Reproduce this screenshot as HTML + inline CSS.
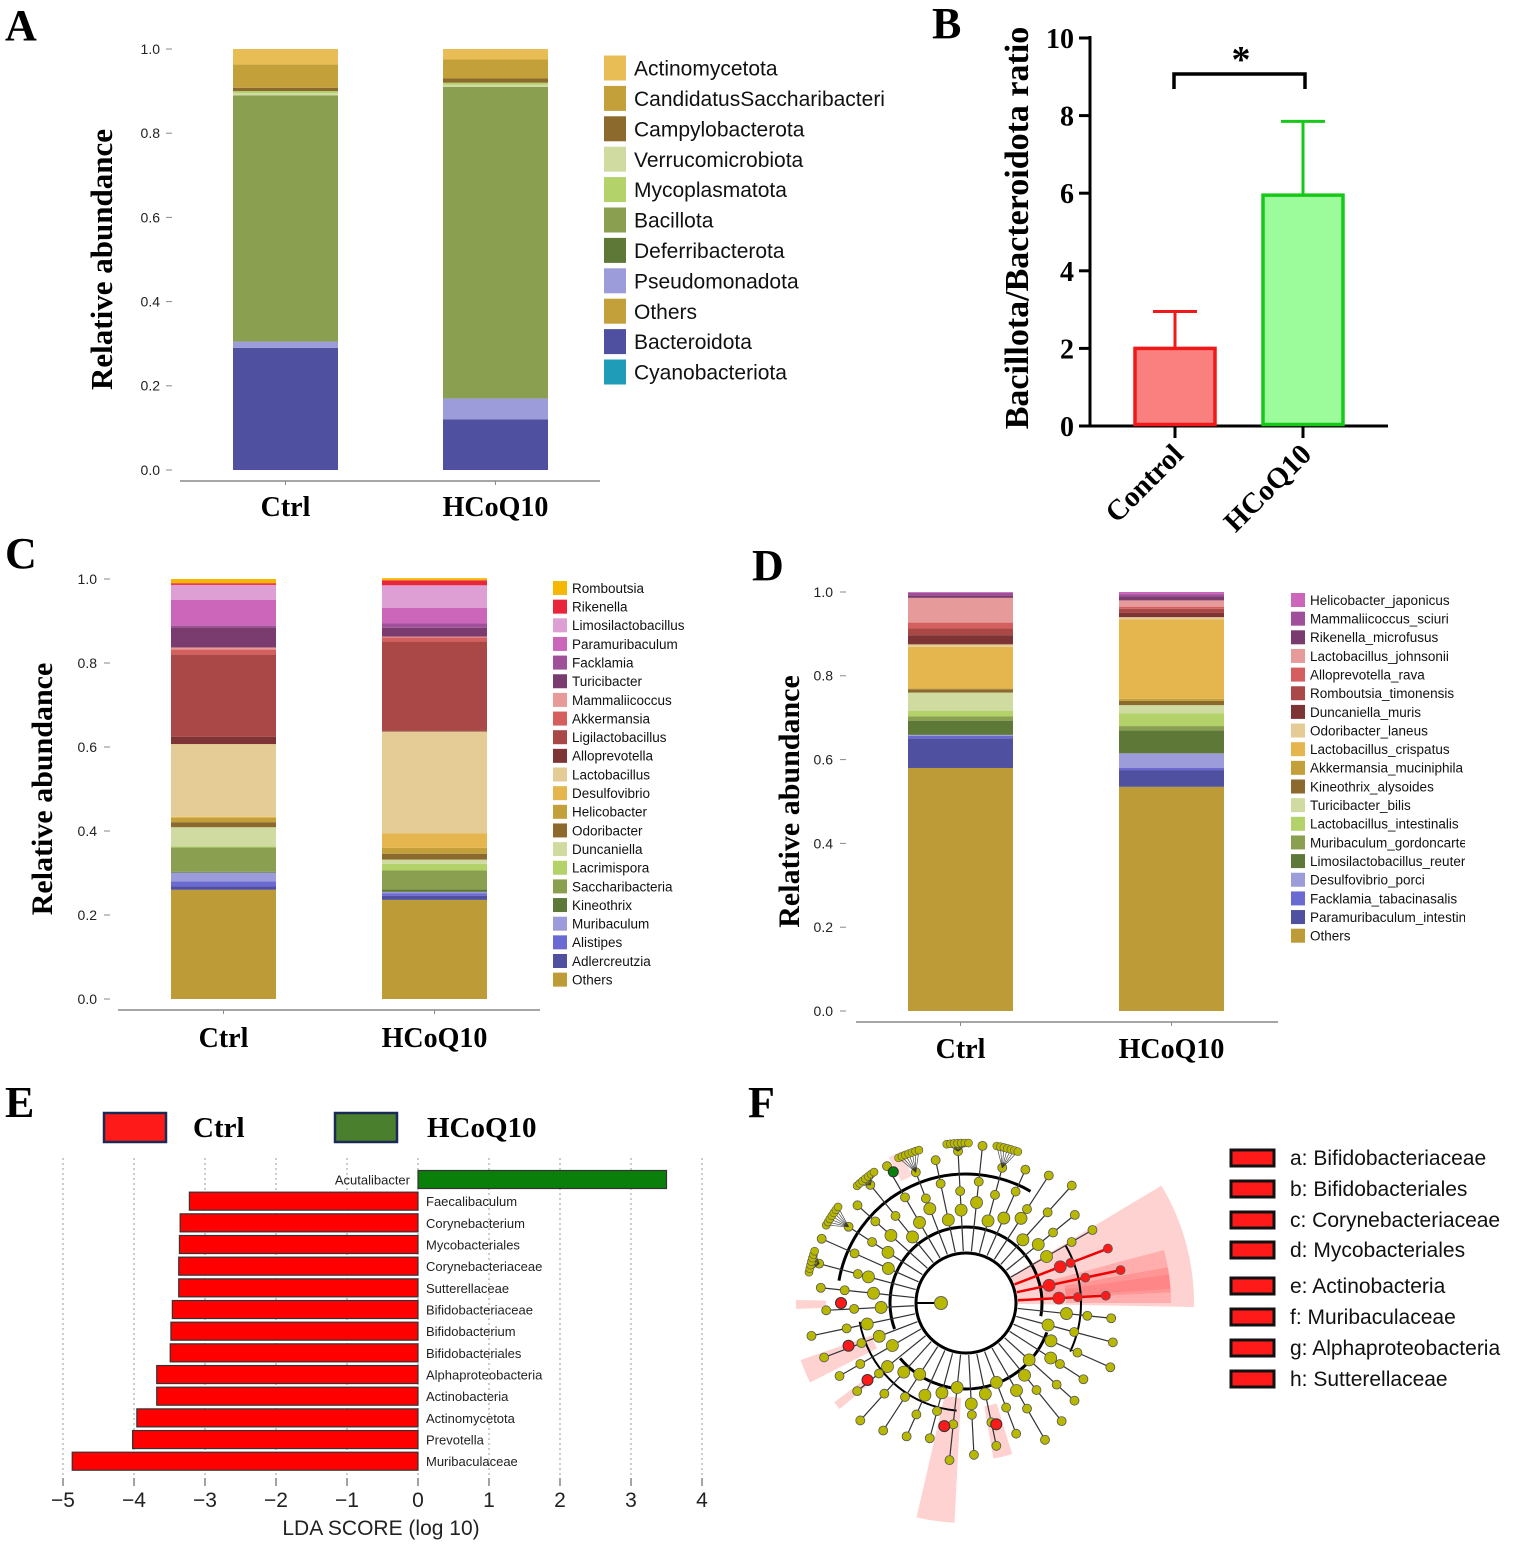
<!DOCTYPE html>
<html><head><meta charset="utf-8"><style>
html,body{margin:0;padding:0;background:#fff;}
svg{display:block;}
.ser{font-family:"Liberation Serif",serif;font-weight:bold;}
.san{font-family:"Liberation Sans",sans-serif;}
</style></head><body>
<svg id="fig" width="1535" height="1545" viewBox="0 0 1535 1545">
<g id="gA"></g>
<g id="gB"></g>
<g id="gC"></g>
<g id="gD"></g>
<g id="gE"></g>
<g id="gF"></g>
</svg>
<script>
const NS="http://www.w3.org/2000/svg";
function mk(p,t,a,txt){const e=document.createElementNS(NS,t);for(const k in a)e.setAttribute(k,a[k]);if(txt!==undefined)e.textContent=txt;p.appendChild(e);return e;}

// ---------- Panel A data ----------
const aPhyla=["Bacteroidota","Pseudomonadota","Bacillota","Verrucomicrobiota","Mycoplasmatota","Campylobacterota","CandidatusSaccharibacteria","Actinomycetota"];
const aColors=["#5050a0","#9c9cdb","#8b9f50","#cfdba0","#b3d36a","#8c6a2d","#c4a03a","#e8bd55"];
const aCtrl=[0.29,0.015,0.585,0.005,0.005,0.008,0.055,0.037];
const aHCoQ=[0.12,0.05,0.74,0.005,0.005,0.01,0.045,0.025];
const aLegend=["Actinomycetota","CandidatusSaccharibacteria","Campylobacterota","Verrucomicrobiota","Mycoplasmatota","Bacillota","Deferribacterota","Pseudomonadota","Others","Bacteroidota","Cyanobacteriota"];
const aLegendColors=["#e8bd55","#c4a03a","#8c6a2d","#cfdba0","#b3d36a","#8b9f50","#5e7838","#9c9cdb","#c4a03a","#5050a0","#1e9cb8"];

// ---------- Panel B data ----------
const bGroups=["Control","HCoQ10"];
const bMeans=[2.0,5.95];
const bErr=[0.95,1.9];
const bTicks=[0,2,4,6,8,10];

// ---------- Panel C data ----------
const cGenera=["Others","Adlercreutzia","Alistipes","Muribaculum","Kineothrix","Saccharibacteria","Lacrimispora","Duncaniella","Odoribacter","Helicobacter","Desulfovibrio","Lactobacillus","Alloprevotella","Ligilactobacillus","Akkermansia","Mammaliicoccus","Turicibacter","Facklamia","Paramuribaculum","Limosilactobacillus","Rikenella","Romboutsia"];
const cColors=["#bd9b37","#5050a0","#6a6ad2","#9c9cdb","#5e7838","#8b9f50","#b3d36a","#cfdba0","#8c6a2d","#c4a03a","#e5b54e","#e5cc96","#7e3434","#aa4848","#d55f5f","#e79a9a","#7a3b6e","#a0509a","#cc66bb","#dd9fd4","#e8253a","#f5b800"];
const cCtrl=[0.26,0.008,0.012,0.021,0.002,0.058,0.002,0.046,0.012,0.01,0.003,0.173,0.017,0.196,0.012,0.005,0.048,0.004,0.061,0.036,0.004,0.01];
const cHCoQ=[0.236,0.01,0.006,0.003,0.006,0.045,0.016,0.01,0.014,0.014,0.034,0.243,0.002,0.212,0.01,0.002,0.021,0.01,0.037,0.054,0.012,0.005];

// ---------- Panel D data ----------
const dSpecies=["Others","Paramuribaculum_intestinale","Facklamia_tabacinasalis","Desulfovibrio_porci","Limosilactobacillus_reuteri","Muribaculum_gordoncarteri","Lactobacillus_intestinalis","Turicibacter_bilis","Kineothrix_alysoides","Akkermansia_muciniphila","Lactobacillus_crispatus","Odoribacter_laneus","Duncaniella_muris","Romboutsia_timonensis","Alloprevotella_rava","Lactobacillus_johnsonii","Rikenella_microfusus","Mammaliicoccus_sciuri","Helicobacter_japonicus"];
const dColors=["#bd9b37","#5050a0","#6a6ad2","#9c9cdb","#5e7838","#8b9f50","#b3d36a","#cfdba0","#8c6a2d","#c4a03a","#e5b54e","#e5cc96","#7e3434","#aa4848","#d55f5f","#e79a9a","#7a3b6e","#a0509a","#cc66bb"];
const dCtrl=[0.58,0.071,0.006,0.002,0.034,0.01,0.013,0.044,0.008,0.002,0.099,0.006,0.022,0.016,0.014,0.059,0.006,0.006,0.002];
const dHCoQ=[0.535,0.04,0.005,0.035,0.055,0.01,0.03,0.02,0.01,0.005,0.19,0.005,0.01,0.01,0.005,0.015,0.01,0.005,0.005];

// ---------- Panel E data ----------
const eTaxa=["Acutalibacter","Faecalibaculum","Corynebacterium","Mycobacteriales","Corynebacteriaceae","Sutterellaceae","Bifidobacteriaceae","Bifidobacterium","Bifidobacteriales","Alphaproteobacteria","Actinobacteria","Actinomycetota","Prevotella","Muribaculaceae"];
const eScores=[3.5,-3.22,-3.35,-3.36,-3.37,-3.37,-3.46,-3.48,-3.49,-3.68,-3.68,-3.96,-4.02,-4.87];
const eTicks=[-5,-4,-3,-2,-1,0,1,2,3,4];

// ---------- Panel F legend ----------
const fLegend=["a: Bifidobacteriaceae","b: Bifidobacteriales","c: Corynebacteriaceae","d: Mycobacteriales","e: Actinobacteria","f: Muribaculaceae","g: Alphaproteobacteria","h: Sutterellaceae"];
const fLegendY=[1158,1189,1220,1250,1286,1317,1348,1379];

function letter(g,x,y,t){const e=mk(g,"text",{x:x,y:y,"font-size":44,class:"ser"},t);

}

function stacked(g,cfg){
 const {y0,y1,bars,labels,colors,values,tickLX,tickX,axisY,axisX0,axisX1,labY,labFs,tickFs,titleX,titleFs}=cfg;
 const ys=v=>y0-(y0-y1)*v;
 [0,0.2,0.4,0.6,0.8,1.0].forEach(t=>{
  const tl=mk(g,"text",{x:tickLX,y:ys(t)+tickFs*0.35,"font-size":tickFs,"text-anchor":"end",class:"san",fill:"#222"},t.toFixed(1));
  
  mk(g,"line",{x1:tickX,x2:tickX+6,y1:ys(t),y2:ys(t),stroke:"#888","stroke-width":1});
 });
 const ax=mk(g,"line",{x1:axisX0,x2:axisX1,y1:axisY,y2:axisY,stroke:"#888","stroke-width":1.5});
 
 bars.forEach((b,i)=>{
  let cum=0;
  values[i].forEach((v,j)=>{
   const r=mk(g,"rect",{x:b[0],width:b[1]-b[0],y:ys(cum+v),height:Math.max(0,ys(cum)-ys(cum+v)),fill:colors[j]});
   
   cum+=v;
  });
  const cx=(b[0]+b[1])/2;
  mk(g,"line",{x1:cx,x2:cx,y1:axisY,y2:axisY+4,stroke:"#888"});
  const t=mk(g,"text",{x:cx,y:labY,"font-size":labFs,"text-anchor":"middle",class:"ser"},labels[i]);
  
 });
 const yt=mk(g,"text",{x:0,y:0,"font-size":titleFs,"text-anchor":"middle",class:"ser",transform:`translate(${titleX},${(y0+y1)/2}) rotate(-90)`},"Relative abundance");
 
}
function legend(g,items,colors,x,y,step,sw,sh,fs){
 items.forEach((n,i)=>{
  const cy=y+i*step;
  const gg=mk(g,"g",{});
  
  mk(gg,"rect",{x:x,y:cy-sh/2,width:sw,height:sh,fill:colors[i]});
  mk(gg,"text",{x:x+sw+(fs>16?8:5),y:cy+fs*0.36,"font-size":fs,class:"san",fill:"#111"},n);
 });
}
const defs=mk(document.getElementById("fig"),"defs",{});
const cpA=mk(defs,"clipPath",{id:"clipA"});mk(cpA,"rect",{x:590,y:40,width:296,height:360});
const cpD=mk(defs,"clipPath",{id:"clipD"});mk(cpD,"rect",{x:1280,y:585,width:185,height:370});

// ===== Panel A =====
(function(){
 const g=document.getElementById("gA");
 letter(g,5,40,"A");
 stacked(g,{y0:470,y1:49,bars:[[233,338],[443,548]],labels:["Ctrl","HCoQ10"],colors:aColors,values:[aCtrl,aHCoQ],
  tickLX:160,tickX:166,axisY:481,axisX0:180,axisX1:600,labY:516,labFs:28,tickFs:14,titleX:112,titleFs:31});
 const lg=mk(g,"g",{"clip-path":"url(#clipA)"});
 
 legend(lg,aLegend,aLegendColors,604,68,30.4,22,25,21);
})();

// ===== Panel B =====
(function(){
 const g=document.getElementById("gB");
 letter(g,932,38,"B");
 const y0=426,y1=38,ys=v=>y0-(y0-y1)*v/10;
 bTicks.forEach(t=>{
  const tl=mk(g,"text",{x:1074,y:ys(t)+10,"font-size":28,"text-anchor":"end",class:"ser"},t);
  
  mk(g,"line",{x1:1079,x2:1090,y1:ys(t),y2:ys(t),stroke:"#000","stroke-width":3});
 });
 mk(g,"line",{x1:1090,x2:1090,y1:y1-2,y2:y0+1.5,stroke:"#000","stroke-width":3});
 mk(g,"line",{x1:1088.5,x2:1388,y1:y0,y2:y0,stroke:"#000","stroke-width":3});
 const cx=[1175,1303],fills=["#fa8080","#9cfc9c"],strokes=["#f01818","#18c818"];
 bGroups.forEach((n,i)=>{
  const e=mk(g,"line",{x1:cx[i],x2:cx[i],y1:ys(bMeans[i]+bErr[i]),y2:ys(bMeans[i]),stroke:strokes[i],"stroke-width":3});
  mk(g,"line",{x1:cx[i]-22,x2:cx[i]+22,y1:ys(bMeans[i]+bErr[i]),y2:ys(bMeans[i]+bErr[i]),stroke:strokes[i],"stroke-width":3});
  
  const r=mk(g,"rect",{x:cx[i]-40,y:ys(bMeans[i]),width:80,height:y0-ys(bMeans[i])-1.5,fill:fills[i],stroke:strokes[i],"stroke-width":3.5});
  
  mk(g,"line",{x1:cx[i],x2:cx[i],y1:y0,y2:y0+12,stroke:"#000","stroke-width":3});
  const t=mk(g,"text",{x:0,y:0,"font-size":29,"text-anchor":"end",class:"ser",transform:`translate(${cx[i]+10},${y0+30}) rotate(-45)`},n);
  
 });
 const br=mk(g,"path",{d:"M1174 89 V74 H1305 V89",fill:"none",stroke:"#000","stroke-width":3.5});
 
 const st=mk(g,"text",{x:1241,y:72,"font-size":38,"text-anchor":"middle",class:"ser"},"*");
 
 const yt=mk(g,"text",{x:0,y:0,"font-size":34,"text-anchor":"middle",class:"ser",transform:"translate(1028,228) rotate(-90)"},"Bacillota/Bacteroidota ratio");
 
})();

// ===== Panel C =====
(function(){
 const g=document.getElementById("gC");
 letter(g,5,568,"C");
 stacked(g,{y0:999,y1:579,bars:[[171,276],[382,487]],labels:["Ctrl","HCoQ10"],colors:cColors,values:[cCtrl,cHCoQ],
  tickLX:97,tickX:104,axisY:1010,axisX0:118,axisX1:540,labY:1047,labFs:28,tickFs:14,titleX:52,titleFs:30});
 const lg=mk(g,"g",{});
 legend(lg,cGenera.slice().reverse(),cColors.slice().reverse(),553,588,18.65,14,14,13.5);
})();

// ===== Panel D =====
(function(){
 const g=document.getElementById("gD");
 letter(g,752,580,"D");
 stacked(g,{y0:1011,y1:592,bars:[[908,1013],[1119,1224]],labels:["Ctrl","HCoQ10"],colors:dColors,values:[dCtrl,dHCoQ],
  tickLX:833,tickX:840,axisY:1022,axisX0:856,axisX1:1278,labY:1058,labFs:28,tickFs:14,titleX:799,titleFs:30});
 const lg=mk(g,"g",{"clip-path":"url(#clipD)"});
 legend(lg,dSpecies.slice().reverse(),dColors.slice().reverse(),1291,600,18.65,14,14,13.5);
})();

// ===== Panel E =====
(function(){
 const g=document.getElementById("gE");
 letter(g,5,1117,"E");
 const x0=418,u=71,xs=v=>x0+u*v;
 const r1=mk(g,"rect",{x:104,y:1113,width:62,height:29,fill:"#ff1a1a",stroke:"#1a2a55","stroke-width":2.5});
 
 mk(g,"text",{x:193,y:1137,"font-size":29,class:"ser"},"Ctrl");
 const r2=mk(g,"rect",{x:335,y:1113,width:62,height:29,fill:"#4a7f2e",stroke:"#1a2a55","stroke-width":2.5});
 
 mk(g,"text",{x:427,y:1137,"font-size":29,class:"ser"},"HCoQ10");
 eTicks.forEach(t=>{
  mk(g,"line",{x1:xs(t),x2:xs(t),y1:1158,y2:1476,stroke:"#999","stroke-width":1,"stroke-dasharray":"2,3"});
  mk(g,"line",{x1:xs(t),x2:xs(t),y1:1478,y2:1486,stroke:"#666","stroke-width":1.2});
  const tl=mk(g,"text",{x:xs(t),y:1507,"font-size":21,"text-anchor":"middle",class:"san",fill:"#222"},t<0?"\u2212"+(-t):String(t));
  
 });
 const step=21.67,yTop=1179.5;
 eTaxa.forEach((n,i)=>{
  const cy=yTop+i*step,v=eScores[i];
  const r=mk(g,"rect",{x:Math.min(xs(0),xs(v)),y:cy-9,width:Math.abs(xs(v)-xs(0)),height:18,fill:v>0?"#0a7f0a":"#ff0000",stroke:"#333","stroke-width":1.2});
  
  const t=mk(g,"text",{x:v>0?xs(0)-8:xs(0)+8,y:cy+5,"font-size":13,"text-anchor":v>0?"end":"start",class:"san",fill:"#222"},n);
  
 });
 const xt=mk(g,"text",{x:381,y:1535,"font-size":21,"text-anchor":"middle",class:"san",fill:"#222"},"LDA SCORE (log 10)");
 
})();

// ===== Panel F =====
(function(){
 const g=document.getElementById("gF");
 letter(g,748,1117,"F");
 const cx=966,cy=1303,P=(r,a)=>[cx+r*Math.cos(a*Math.PI/180),cy+r*Math.sin(a*Math.PI/180)];
 function wedge(a1,a2,r1,r2,op){const p1=P(r1,a1),p2=P(r2,a1),p3=P(r2,a2),p4=P(r1,a2);
  const w=mk(g,"path",{d:`M${p1} L${p2} A${r2} ${r2} 0 0 1 ${p3} L${p4} A${r1} ${r1} 0 0 0 ${p1}Z`,fill:"#ff6b6b","fill-opacity":op});
  }
 wedge(-31,1,50,228,0.3);wedge(-15,-3,78,205,0.35);wedge(-10,-4,100,205,0.35);wedge(-8,0,100,205,0.35);
 wedge(93,103,95,220,0.3);wedge(73,80,105,158,0.3);wedge(153,161,100,175,0.3);wedge(140,143,130,165,0.3);wedge(178,181,140,170,0.3);
 wedge(242,247,138,165,0.25);
 function arc(r,a1,a2,w){const p1=P(r,a1),p2=P(r,a2);mk(g,"path",{d:`M${p1} A${r} ${r} 0 ${a2-a1>180?1:0} 1 ${p2}`,fill:"none",stroke:"#000","stroke-width":w});}
 mk(g,"circle",{cx:cx,cy:cy,r:50,fill:"none",stroke:"#000","stroke-width":3});
 arc(76,160,370,3);arc(129,190,300,3);arc(86,20,140,3);arc(108,95,170,2);arc(115,330,385,2);
 mk(g,"line",{x1:cx-50,y1:cy,x2:cx-25,y2:cy,stroke:"#000","stroke-width":2});
 mk(g,"circle",{cx:cx-25,cy:cy,r:6.5,fill:"#b8b800",stroke:"#666"});
 let k2=0;
 for(let a=-30;a<330;a+=9){
  k2++;
  const isRed=(a>=-21&&a<=-3);
  const rs=[52,85+(k2%3)*8,112+(k2%2)*10,140+(k2%4)*6];
  const pts=rs.map(r=>P(r,a));
  mk(g,"polyline",{points:pts.map(p=>p.join(",")).join(" "),fill:"none",stroke:isRed?"#e00":"#333","stroke-width":isRed?2.5:1.2});
  pts.slice(1).forEach((p,k)=>{mk(g,"circle",{cx:p[0],cy:p[1],r:k==0?6:4.5,fill:isRed?"#ff1a1a":"#b8b800",stroke:"#555","stroke-width":0.8});});
  if(a>190&&a<300&&k2%2==0){for(let s=-3;s<=3;s++){const q=P(160,a+s*1.3);mk(g,"line",{x1:pts[3][0],y1:pts[3][1],x2:q[0],y2:q[1],stroke:"#333","stroke-width":0.6});mk(g,"circle",{cx:q[0],cy:q[1],r:4,fill:"#b8b800",stroke:"#555","stroke-width":0.6});}}
 }
 [100,76,160,142,180].forEach(a=>{const p=P(125,a);mk(g,"circle",{cx:p[0],cy:p[1],r:5.5,fill:"#ff1a1a",stroke:"#333"});});
 const gn=P(150,241);mk(g,"circle",{cx:gn[0],cy:gn[1],r:5,fill:"#0a7f0a",stroke:"#333"});
 fLegend.forEach((n,i)=>{
  const gg=mk(g,"g",{});
  mk(gg,"rect",{x:1231,y:fLegendY[i]-8,width:43,height:16,fill:"#ff1a1a",stroke:"#111","stroke-width":3});
  mk(gg,"text",{x:1290,y:fLegendY[i]+7,"font-size":21,class:"san",fill:"#111"},n);
 });
})();
</script>
</body></html>
